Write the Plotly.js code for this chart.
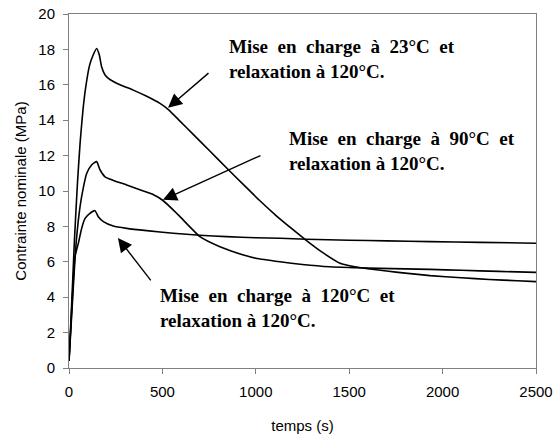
<!DOCTYPE html>
<html>
<head>
<meta charset="utf-8">
<script src="https://cdn.plot.ly/plotly-3.0.1.min.js"></script>
<style>html,body{margin:0;padding:0;background:#fff;}#chart{width:558px;height:434px;}</style>
</head>
<body>
<div id="chart"></div>
<script>
// Mise en charge à 23°C
const t23 = [0,10,20,30,45,60,75,90,110,130,148,162,175,193,219,273,344,416,487,532,594,665,750,844,930,1022,1110,1201,1263,1361,1451,1530,1611,1700,1800,1933,2100,2250,2400,2500];
const v23 = [0.4,2.6,5.0,7.4,10.4,12.8,14.6,15.9,17.1,17.7,18.05,17.7,17.0,16.55,16.3,16.0,15.7,15.35,14.95,14.6,13.95,13.2,12.3,11.3,10.4,9.45,8.6,7.8,7.27,6.5,5.92,5.72,5.6,5.48,5.36,5.22,5.1,5.0,4.93,4.88];
// Mise en charge à 90°C
const t90 = [0,10,20,30,41,59,77,95,121,148,166,193,237,309,398,450,505,585,701,808,900,1000,1130,1250,1397,1530,1665,1800,1933,2100,2300,2500];
const v90 = [0.4,2.2,4.0,5.8,7.4,9.1,10.2,11.0,11.47,11.66,11.2,10.8,10.6,10.34,10.0,9.8,9.45,8.65,7.42,6.85,6.5,6.2,6.0,5.85,5.72,5.67,5.63,5.6,5.57,5.52,5.46,5.4];
// Mise en charge à 120°C
const t120 = [0,10,20,32,50,68,86,112,139,157,184,237,309,416,558,700,844,1000,1130,1272,1500,1700,1933,2200,2500];
const v120 = [0.4,2.4,4.4,6.3,7.04,7.9,8.45,8.74,8.89,8.55,8.27,8.02,7.89,7.76,7.61,7.5,7.42,7.36,7.33,7.27,7.22,7.18,7.14,7.1,7.05];

const xTicks = [0,500,1000,1500,2000,2500];
const yTicks = [0,2,4,6,8,10,12,14,16,18,20];

const S = "\u00a0 ";
const labels = [
  "Mise"+S+"en"+S+"charge"+S+"à"+S+"23°C"+S+"et<br>relaxation à 120°C.",
  "Mise"+S+"en"+S+"charge"+S+"à"+S+"90°C"+S+"et<br>relaxation à 120°C.",
  "Mise"+S+"en"+S+"charge"+S+"à"+S+"120°C"+S+"et<br>relaxation à 120°C."
];

const line = {color:'#000', width:1.6, shape:'spline', smoothing:0.5};
const traces = [
  {x:t23, y:v23, mode:'lines', line:line, hoverinfo:'skip'},
  {x:t90, y:v90, mode:'lines', line:line, hoverinfo:'skip'},
  {x:t120, y:v120, mode:'lines', line:line, hoverinfo:'skip'}
];

const txtFont = {family:'"Liberation Serif", "Times New Roman", serif', size:19, color:'#000', weight:'bold'};
function arrow(x,y,ax,ay){
  return {x:x, y:y, ax:ax, ay:ay, xref:'x', yref:'y', text:'', showarrow:true,
    arrowhead:2, arrowsize:2, arrowwidth:1.4, arrowcolor:'#000'};
}
function label(x,y,t){
  return {x:x, y:y, xref:'x', yref:'y', text:'<b>'+t+'</b>', showarrow:false,
    xanchor:'left', yanchor:'middle', align:'left', font:txtFont};
}

const layout = {
  width:558, height:434,
  margin:{l:69, r:22, t:14, b:66},
  paper_bgcolor:'#fff', plot_bgcolor:'#fff',
  showlegend:false,
  font:{family:'"Liberation Sans", Arial, sans-serif', size:15, color:'#000'},
  xaxis:{range:[0,2500], tickvals:xTicks, ticks:'outside', ticklen:5, tickcolor:'#808080',
    ticklabelstandoff:5,
    showline:true, linecolor:'#808080', linewidth:1, mirror:true, showgrid:false, zeroline:false,
    title:{text:'temps (s)', standoff:22, font:{size:15}}},
  yaxis:{range:[0,20], tickvals:yTicks, ticks:'outside', ticklen:5, tickcolor:'#808080',
    ticklabelstandoff:5,
    showline:true, linecolor:'#808080', linewidth:1, mirror:true, showgrid:false, zeroline:false,
    title:{text:'Contrainte nominale (MPa)', standoff:8, font:{size:15}}},
  annotations:[
    arrow(530,14.7,42,-36),
    arrow(503,9.5,99,-45),
    arrow(262,7.35,34,44),
    label(846,17.45,labels[0]),
    label(1167,12.26,labels[1]),
    label(476,3.39,labels[2])
  ]
};
Plotly.newPlot('chart', traces, layout, {displayModeBar:false, staticPlot:true});
</script>
</body>
</html>
